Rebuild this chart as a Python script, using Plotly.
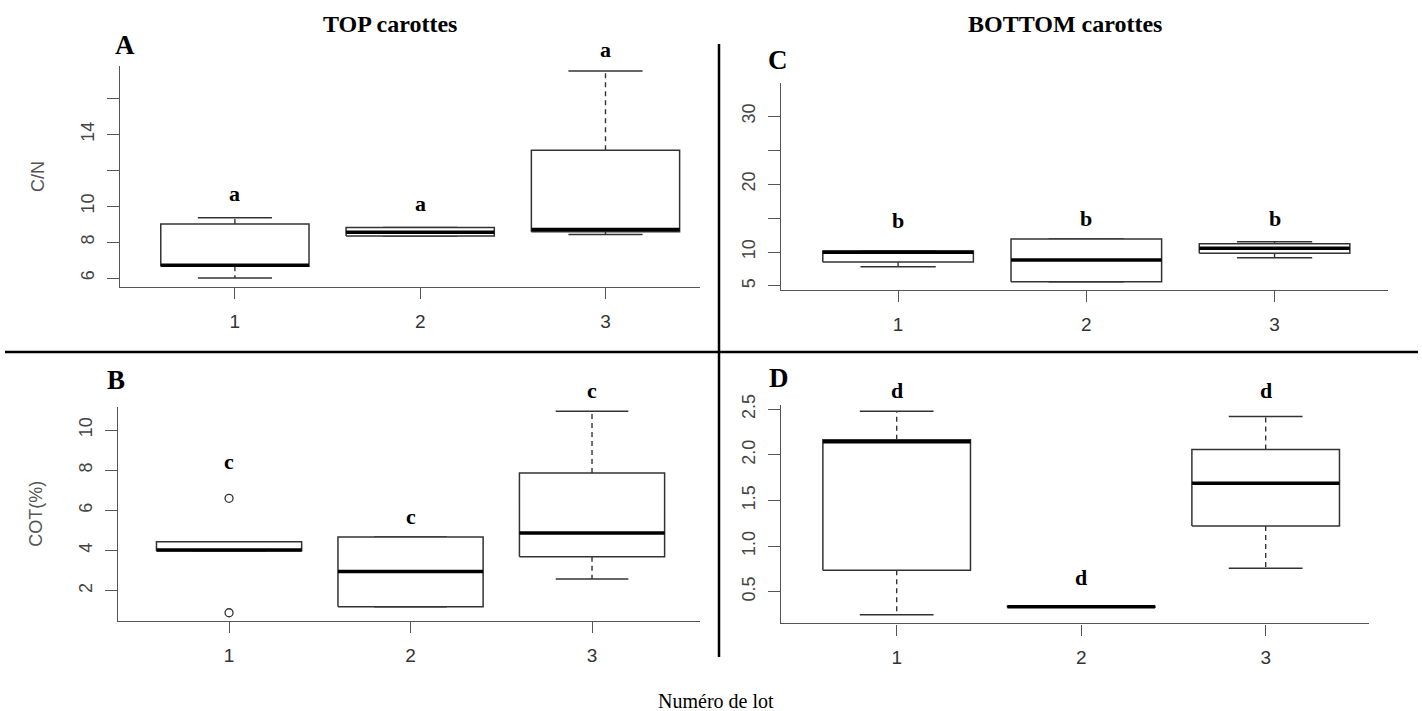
import plotly.graph_objects as go

# ---------------- data ----------------
lots = [1, 2, 3]
lot_labels = ["1", "2", "3"]

# A : C/N, TOP carottes
cn_top_low = [6.00, 8.34, 8.43]
cn_top_q1 = [6.65, 8.34, 8.58]
cn_top_med = [6.71, 8.55, 8.71]
cn_top_q3 = [9.01, 8.81, 13.12]
cn_top_high = [9.36, 8.81, 17.54]
cn_top_letters = ["a", "a", "a"]
cn_top_letter_y = [10.57, 9.98, 18.58]

# C : C/N, BOTTOM carottes
cn_bot_low = [7.85, 5.64, 9.17]
cn_bot_q1 = [8.54, 5.64, 9.81]
cn_bot_med = [9.98, 8.83, 10.55]
cn_bot_q3 = [10.15, 11.93, 11.24]
cn_bot_high = [10.15, 11.93, 11.53]
cn_bot_letters = ["b", "b", "b"]
cn_bot_letter_y = [14.2, 14.5, 14.5]

# B : COT(%), TOP carottes
cot_top_low = [3.99, 1.20, 2.58]
cot_top_q1 = [3.99, 1.20, 3.69]
cot_top_med = [4.02, 2.95, 4.87]
cot_top_q3 = [4.44, 4.67, 7.86]
cot_top_high = [4.44, 4.67, 10.93]
cot_top_out_x = [1, 1]
cot_top_out_y = [6.6, 0.9]
cot_top_letters = ["c", "c", "c"]
cot_top_letter_y = [8.26, 5.55, 11.8]

# D : COT(%), BOTTOM carottes
cot_bot_low = [0.248, 0.33, 0.756]
cot_bot_q1 = [0.734, 0.33, 1.22]
cot_bot_med = [2.145, 0.335, 1.69]
cot_bot_q3 = [2.167, 0.34, 2.06]
cot_bot_high = [2.478, 0.34, 2.42]
cot_bot_letters = ["d", "d", "d"]
cot_bot_letter_y = [2.675, 0.62, 2.675]

# tick labels
ticks_A = [6, 8, 10, 12, 14, 16]
ticktext_A = ["6", "8", "10", "", "14", ""]
ticks_C = [5, 10, 15, 20, 25, 30]
ticktext_C = ["5", "10", "", "20", "", "30"]
ticks_B = [2, 4, 6, 8, 10]
ticktext_B = ["2", "4", "6", "8", "10"]
ticks_D = [0.5, 1.0, 1.5, 2.0, 2.5]
ticktext_D = ["0.5", "1.0", "1.5", "2.0", "2.5"]

# axis ranges
xr_A, yr_A = [0.38, 3.51], [5.5, 17.82]
xr_C, yr_C = [0.378, 3.60], [4.41, 34.86]
xr_B, yr_B = [0.388, 3.595], [0.49, 11.16]
xr_D, yr_D = [0.373, 3.56], [0.153, 2.547]

# ---------------- styling ----------------
W, H = 1422, 711
BOX_HW = 0.4      # half box width (R default boxwex 0.8)
CAP_HW = 0.2      # half staple width
LINE_C = "#333333"
AXIS_C = "#555555"
SANS = "Liberation Sans, Arial, sans-serif"
SERIF = "Liberation Serif, Times New Roman, serif"

fig = go.Figure()


def add_boxes(xn, yn, yrange, low, q1, med, q3, high, letters, letter_y):
    bx, by, mx, my, wx, wy, cx, cy = [], [], [], [], [], [], [], []
    for i, x in enumerate(lots):
        bx += [x - BOX_HW, x + BOX_HW, x + BOX_HW, x - BOX_HW, x - BOX_HW, None]
        by += [q1[i], q1[i], q3[i], q3[i], q1[i], None]
        mx += [x - BOX_HW, x + BOX_HW, None]
        my += [med[i], med[i], None]
        if high[i] > q3[i]:
            wx += [x, x, None]
            wy += [q3[i], high[i], None]
        if low[i] < q1[i]:
            wx += [x, x, None]
            wy += [q1[i], low[i], None]
        cx += [x - CAP_HW, x + CAP_HW, None, x - CAP_HW, x + CAP_HW, None]
        cy += [high[i], high[i], None, low[i], low[i], None]
    common = dict(xaxis="x" + xn, yaxis="y" + yn, showlegend=False, hoverinfo="skip")
    fig.add_trace(go.Scatter(x=wx, y=wy, mode="lines",
                             line=dict(color=LINE_C, width=1.4, dash="5px,4px"), **common))
    fig.add_trace(go.Scatter(x=cx, y=cy, mode="lines",
                             line=dict(color=LINE_C, width=1.5), **common))
    fig.add_trace(go.Scatter(x=bx, y=by, mode="lines", fill="toself", fillcolor="white",
                             line=dict(color=LINE_C, width=1.5), **common))
    fig.add_trace(go.Scatter(x=mx, y=my, mode="lines",
                             line=dict(color="black", width=3.5), **common))
    # significance letters (some lie above the plotting region, as in the R figure)
    for x, t, v in zip(lots, letters, letter_y):
        fig.add_annotation(text=t, x=x, xref="x" + xn,
                           y=(v - yrange[0]) / (yrange[1] - yrange[0]), yref="y" + yn + " domain",
                           xanchor="center", yanchor="middle", showarrow=False, yshift=3,
                           font=dict(family=SERIF, size=22, color="black", weight="bold"))


add_boxes("", "", yr_A, cn_top_low, cn_top_q1, cn_top_med, cn_top_q3, cn_top_high,
          cn_top_letters, cn_top_letter_y)
add_boxes("2", "2", yr_C, cn_bot_low, cn_bot_q1, cn_bot_med, cn_bot_q3, cn_bot_high,
          cn_bot_letters, cn_bot_letter_y)
add_boxes("3", "3", yr_B, cot_top_low, cot_top_q1, cot_top_med, cot_top_q3, cot_top_high,
          cot_top_letters, cot_top_letter_y)
add_boxes("4", "4", yr_D, cot_bot_low, cot_bot_q1, cot_bot_med, cot_bot_q3, cot_bot_high,
          cot_bot_letters, cot_bot_letter_y)

# outliers (panel B)
fig.add_trace(go.Scatter(x=cot_top_out_x, y=cot_top_out_y, mode="markers", xaxis="x3", yaxis="y3",
                         marker=dict(symbol="circle-open", size=8, color=LINE_C, line=dict(width=1.3)),
                         showlegend=False, hoverinfo="skip"))


def xdom(a, b):
    return [a / W, b / W]


def ydom(top, bottom):
    return [1 - bottom / H, 1 - top / H]


def xax(dom, rng, anchor):
    return dict(domain=dom, range=rng, anchor=anchor, tickvals=lots, ticktext=lot_labels,
                showline=True, linecolor=AXIS_C, linewidth=1.4, ticks="outside", ticklen=11,
                tickwidth=1.4, tickcolor=AXIS_C, showgrid=False, zeroline=False,
                tickfont=dict(family=SANS, size=19, color="#333333"), ticklabelstandoff=6,
                fixedrange=True, automargin=False)


def yax(dom, rng, anchor, tv, tt, title=None):
    d = dict(domain=dom, range=rng, anchor=anchor, tickvals=tv, ticktext=tt, tickangle=-90,
             showline=True, linecolor=AXIS_C, linewidth=1.4, ticks="outside", ticklen=12,
             tickwidth=1.4, tickcolor=AXIS_C, showgrid=False, zeroline=False,
             tickfont=dict(family=SANS, size=18, color="#444444"), ticklabelstandoff=6,
             fixedrange=True, automargin=False)
    if title:
        d["title"] = dict(text=title, font=dict(family=SANS, size=18, color="#555555"), standoff=28)
    return d


fig.update_layout(
    width=W, height=H,
    margin=dict(l=0, r=0, t=0, b=0, autoexpand=False),
    paper_bgcolor="white", plot_bgcolor="white",
    showlegend=False,
    xaxis=xax(xdom(120, 700), xr_A, "y"),
    yaxis=yax(ydom(66, 287), yr_A, "x", ticks_A, ticktext_A, "C/N"),
    xaxis2=xax(xdom(781, 1387.5), xr_C, "y2"),
    yaxis2=yax(ydom(83.3, 290), yr_C, "x2", ticks_C, ticktext_C),
    xaxis3=xax(xdom(118, 700), xr_B, "y3"),
    yaxis3=yax(ydom(406.7, 621), yr_B, "x3", ticks_B, ticktext_B, "COT(%)"),
    xaxis4=xax(xdom(781, 1369), xr_D, "y4"),
    yaxis4=yax(ydom(405, 623.3), yr_D, "x4", ticks_D, ticktext_D),
)

# separators
fig.add_shape(type="line", xref="paper", yref="paper", x0=5 / W, x1=1418 / W,
              y0=1 - 352 / H, y1=1 - 352 / H, line=dict(color="black", width=2.5))
fig.add_shape(type="line", xref="paper", yref="paper", x0=719 / W, x1=719 / W,
              y0=1 - 44 / H, y1=1 - 657 / H, line=dict(color="black", width=2.5))


def ann(text, px, py, size, bold=True, family=SERIF):
    fig.add_annotation(text=text, x=px / W, y=1 - py / H, xref="paper", yref="paper",
                       xanchor="center", yanchor="middle", showarrow=False,
                       font=dict(family=family, size=size, color="black",
                                 weight="bold" if bold else "normal"))


ann("TOP carottes", 390, 24, 24)
ann("BOTTOM carottes", 1065, 24, 24)
ann("A", 125, 45, 27)
ann("B", 116, 380, 27)
ann("C", 778, 60, 27)
ann("D", 779, 378, 27)
ann("Numéro de lot", 716, 701, 20, bold=False)

fig.write_html(
    "out.html", config={"displayModeBar": False},
    post_script="document.body.style.margin='0';")
